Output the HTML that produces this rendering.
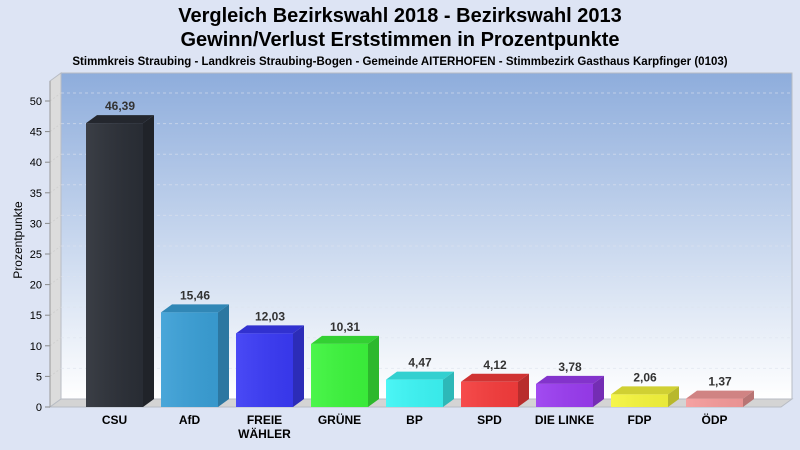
<!DOCTYPE html>
<html><head><meta charset="utf-8"><style>
body{margin:0;background:#dde4f4;}
svg{display:block;font-family:"Liberation Sans",sans-serif;}
</style></head><body>
<svg id="c" width="800" height="450" viewBox="0 0 800 450">
<defs>
<linearGradient id="bg" x1="0" y1="0" x2="0" y2="1"><stop offset="0" stop-color="#8eaddc"/><stop offset="1" stop-color="#ffffff"/></linearGradient>
<linearGradient id="shine" x1="0" y1="0" x2="1" y2="0"><stop offset="0" stop-color="#fff" stop-opacity="0.08"/><stop offset="1" stop-color="#000" stop-opacity="0.05"/></linearGradient>
</defs>
<rect width="800" height="450" fill="#dde4f4"/>
<text x="400" y="22" text-anchor="middle" font-size="20" font-weight="bold" fill="#000">Vergleich Bezirkswahl 2018 - Bezirkswahl 2013</text>
<text x="400" y="46" text-anchor="middle" font-size="20" font-weight="bold" fill="#000">Gewinn/Verlust Erststimmen in Prozentpunkte</text>
<text x="400" y="65" text-anchor="middle" font-size="11.5" font-weight="bold" fill="#000">Stimmkreis Straubing - Landkreis Straubing-Bogen - Gemeinde AITERHOFEN - Stimmbezirk Gasthaus Karpfinger (0103)</text>
<rect x="61" y="73" width="731" height="326" fill="url(#bg)" stroke="#b8bcc4"/>
<polygon points="50,81 61,73 61,399 50,407" fill="#dcdcdc" stroke="#b8bcc4"/>
<polygon points="50,407 61,399 792,399 781,407" fill="#d4d4d4" stroke="#b8bcc4"/>
<g id="grid"></g>
<g id="bars"></g>
<text transform="translate(22,240) rotate(-90)" text-anchor="middle" font-size="12" fill="#000">Prozentpunkte</text>
</svg>
<script>
const categories=["CSU","AfD","FREIE WÄHLER","GRÜNE","BP","SPD","DIE LINKE","FDP","ÖDP"];
const values=[46.39,15.46,12.03,10.31,4.47,4.12,3.78,2.06,1.37];
const valueLabels=["46,39","15,46","12,03","10,31","4,47","4,12","3,78","2,06","1,37"];
const colors=["#2a2e36","#3a9fd6","#3a3af5","#3cf53c","#3cf5f5","#f53c3c","#9a3cf0","#f5f53c","#f59a9a"];
const yTicks=[0,5,10,15,20,25,30,35,40,45,50];
const NS="http://www.w3.org/2000/svg";
const y=v=>407-v*6.12;
const x=i=>86+i*75;
const BW=57,DX=11,DY=8;
function mk(t,a,p){const e=document.createElementNS(NS,t);for(const k in a)e.setAttribute(k,a[k]);p.appendChild(e);return e;}
function shade(h,f){const n=parseInt(h.slice(1),16);let r=n>>16,g=(n>>8)&255,b=n&255;return `rgb(${Math.round(r*f)},${Math.round(g*f)},${Math.round(b*f)})`;}
const grid=document.getElementById('grid'),bars=document.getElementById('bars'),svg=document.getElementById('c');
yTicks.forEach(t=>{
 if(t>0){const l=mk('line',{x1:61,x2:792,y1:y(t)-DY,y2:y(t)-DY,stroke:'#dde3ee','stroke-opacity':0.6,'stroke-dasharray':'3,3'},grid);
 
 const d=mk('line',{x1:50,x2:61,y1:y(t),y2:y(t)-DY,stroke:'#d0d0d0','stroke-dasharray':'2,2'},grid);
 }
 const tk=mk('line',{x1:45,x2:50,y1:y(t),y2:y(t),stroke:'#888'},grid);
 
 const tx=mk('text',{x:42,y:y(t)+4,'text-anchor':'end','font-size':11,fill:'#000'},grid);tx.textContent=t;
 
});
const ax=mk('line',{x1:50,x2:50,y1:81,y2:407,stroke:'#999'},grid);

categories.forEach((c,i)=>{
 const g=mk('g',{},bars);
 
 
 const x0=x(i),yt=y(values[i]),col=colors[i];
 mk('polygon',{points:`${x0},${yt} ${x0+DX},${yt-DY} ${x0+BW+DX},${yt-DY} ${x0+BW},${yt}`,fill:shade(col,0.85)},g);
 mk('polygon',{points:`${x0+BW},${yt} ${x0+BW+DX},${yt-DY} ${x0+BW+DX},${407-DY} ${x0+BW},407`,fill:shade(col,0.75)},g);
 mk('rect',{x:x0,y:yt,width:BW,height:407-yt,fill:col},g);
 mk('rect',{x:x0,y:yt,width:BW,height:407-yt,fill:'url(#shine)'},g);
 const vl=mk('text',{x:x0+BW/2+DX/2,y:yt-DY-5,'text-anchor':'middle','font-size':12,'font-weight':'bold',fill:'#333'},svg);
 vl.textContent=valueLabels[i];
 
 const words=c==="FREIE WÄHLER"?["FREIE","WÄHLER"]:[c];
 words.forEach((w,k)=>{const t=mk('text',{x:x0+BW/2,y:424+k*14,'text-anchor':'middle','font-size':12,'font-weight':'bold',fill:'#000'},svg);t.textContent=w;
 });
});
</script>
</body></html>
